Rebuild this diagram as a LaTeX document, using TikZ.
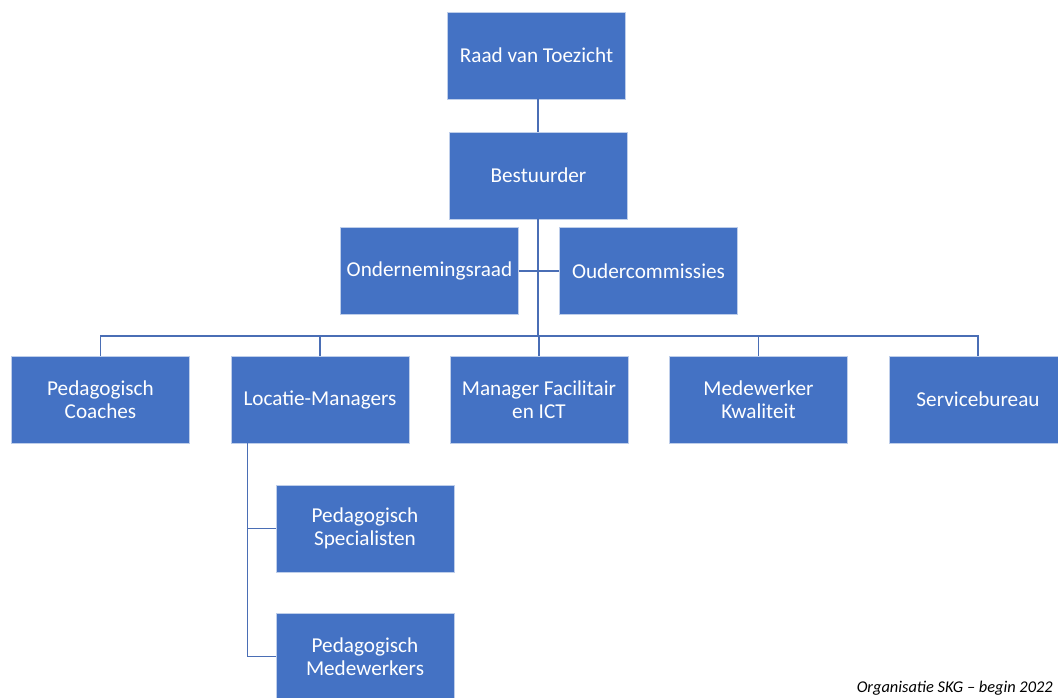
\documentclass[tikz,border=0pt]{standalone}
\usepackage{fontspec}
\setmainfont{Carlito}
\definecolor{skgblauw}{HTML}{4472C4}
\definecolor{skglijn}{HTML}{4A6EB5}
\begin{document}
\begin{tikzpicture}[x=0.75pt,y=-0.75pt,
  blok/.style={draw=white!65!skgblauw, line width=0.6pt, fill=skgblauw, text=white,
    minimum width=133.5pt, minimum height=65.25pt, inner sep=0pt, align=center,
    font=\fontsize{15.9}{17.6}\selectfont},
  lijn/.style={draw=skglijn, line width=1.1pt}]
  \useasboundingbox (0,0) rectangle (1058,697);

  % Top
  \node[blok] (rvt) at (536.5,55.5) {Raad van Toezicht};
  \node[blok] (best) at (538.5,175.5) {Bestuurder};
  \node[blok] (ondraad) at (429.5,271) {Ondernemingsraad};
  \node[blok] (ouderc) at (648.5,271) {Oudercommissies};

  % Row
  \node[blok] (coach) at (100.5,399.5) {Pedagogisch\\Coaches};
  \node[blok] (lm) at (320,399.5) {Locatie-Managers};
  \node[blok] (mf) at (539,399.5) {Manager Facilitair\\en ICT};
  \node[blok] (mk) at (758.5,399.5) {Medewerker\\Kwaliteit};
  \node[blok] (sb) at (978,399.5) {Servicebureau};

  % Under Locatie-Managers
  \node[blok] (ps) at (365,528.5) {Pedagogisch\\Specialisten};
  \node[blok] (pm) at (365,656.5) {Pedagogisch\\Medewerkers};

  % Lines
  \coordinate (bus) at (538,336);
  \draw[lijn] (rvt.south -| bus) -- (best.north -| bus);
  \draw[lijn] (best.south -| bus) -- (bus);
  \draw[lijn] (ondraad.east) -- (ouderc.west);
  \foreach \n in {coach,lm,mf,mk,sb}
    \draw[lijn] (\n.north) |- (bus);
  \coordinate (lmtak) at ([xshift=12.75pt]lm.south west);
  \draw[lijn] (lmtak) |- (ps.west);
  \draw[lijn] (lmtak) |- (pm.west);

  \node[anchor=base east, inner sep=0pt, font=\fontsize{12.3}{14}\selectfont\itshape] (bijschrift) at (1053,692) {Organisatie SKG -- begin 2022};
\end{tikzpicture}
\end{document}
